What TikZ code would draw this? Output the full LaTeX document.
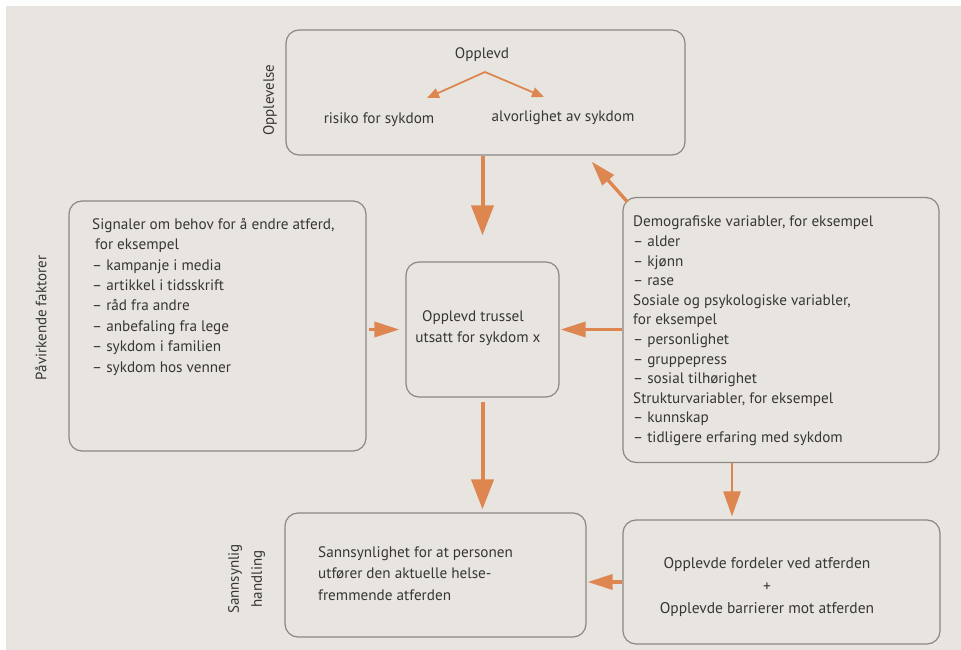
\documentclass[tikz,border=0pt]{standalone}
\usepackage{fontspec}
\setmainfont{PT Sans}
\usetikzlibrary{arrows.meta,calc}
\definecolor{bg}{HTML}{E8E5E0}
\definecolor{edge}{HTML}{8A8784}
\definecolor{ink}{HTML}{383634}
\definecolor{org}{HTML}{DD8650}
\tikzset{
  box/.style={draw=edge,line width=1.2pt,rounded corners=13pt,inner sep=0pt},
  txt/.style={text=ink,font=\fontsize{15.2}{20.4}\selectfont,inner sep=0pt,align=left},
  side/.style={text=ink,font=\fontsize{15}{23}\selectfont,inner sep=0pt,rotate=90,align=center},
  bigarr/.style={draw=org,line width=4pt,-{Triangle[width=22pt,length=30pt]}},
  midarr/.style={draw=org,line width=3.4pt,-{Triangle[width=15pt,length=25pt]}},
  thinarr/.style={draw=org,line width=2.6pt,-{Triangle[width=17pt,length=25pt]}},
  smallarr/.style={draw=org,line width=1.8pt,-{Triangle[width=10pt,length=12pt]}}
}
\begin{document}
\begin{tikzpicture}[x=1pt,y=-1pt]
\fill[bg] (0,0) rectangle (961,650);
\fill[white!96!bg] (0,0) rectangle (961,6);
\fill[white!96!bg] (0,0) rectangle (6,650);
\useasboundingbox (0,0) rectangle (961,650);

% boxes
\node[box,minimum width=399pt,minimum height=125pt] (top) at (485.5,92.5) {};
\node[box,minimum width=153pt,minimum height=135pt] (mid) at (482.5,329.5) {};
\node[box,minimum width=297pt,minimum height=250pt] (left) at (217.5,326) {};
\node[box,minimum width=316pt,minimum height=265pt] (right) at (781,330) {};
\node[box,minimum width=301pt,minimum height=124pt] (bl) at (435.5,575) {};
\node[box,minimum width=317pt,minimum height=124pt] (br) at (781.5,582) {};

% side labels
\node[side] (lopp) at (270,100) {Opplevelse};
\node[side] (lpav) at (41,318) {Påvirkende faktorer};
\node[side] (lsan) at (246.5,579) {Sannsynlig\\handling};

% top box content
\node[txt] (opplevd) at (482,55) {Opplevd};
\node[txt] (risiko) at (379,120) {risiko for sykdom};
\node[txt] (alvor) at (563,118) {alvorlighet av sykdom};
\coordinate (fork) at (485,72);
\coordinate (tipL) at (427,98);
\coordinate (tipR) at (544,97);
\draw[smallarr] (fork) -- (tipL);
\draw[smallarr] (fork) -- (tipR);

% middle text
\node[txt,align=center,font=\fontsize{15.2}{21}\selectfont] (midtxt) at (478,328.5) {\hspace*{-10pt}Opplevd trussel\\utsatt for sykdom x};

% left text
\node[txt,anchor=north west] (lefttxt) at (92,218) {Signaler om behov for å endre atferd,\\
\hspace*{3pt}for eksempel\\
– kampanje i media\\
– artikkel i tidsskrift\\
– råd fra andre\\
– anbefaling fra lege\\
– sykdom i familien\\
– sykdom hos venner};

% right text
\node[txt,anchor=north west,font=\fontsize{15.2}{19.6}\selectfont] (righttxt) at (633,216) {Demografiske variabler, for eksempel\\
– alder\\
– kjønn\\
– rase\\
Sosiale og psykologiske variabler,\\
for eksempel\\
– personlighet\\
– gruppepress\\
– sosial tilhørighet\\
Strukturvariabler, for eksempel\\
– kunnskap\\
– tidligere erfaring med sykdom};

% bottom texts
\node[txt,anchor=north west,font=\fontsize{15.2}{21.5}\selectfont] (bltxt) at (318,546) {Sannsynlighet for at personen\\utfører den aktuelle helse-\\fremmende atferden};
\node[txt,align=center,font=\fontsize{15.5}{22.5}\selectfont] (brtxt) at (767,587.5) {Opplevde fordeler ved atferden\\+\\Opplevde barrierer mot atferden};

% arrows
\coordinate (rs) at ($(right.south)+(-49,0)$);
\draw[bigarr,shorten >=26pt] (top.south -| mid.north) -- (mid.north);
\draw[bigarr,shorten <=4pt,shorten >=3pt] (mid.south) -- (mid.south |- bl.north);
\draw[midarr,shorten <=2pt,shorten >=6pt] (left.east |- mid.west) -- (mid.west);
\draw[midarr,shorten >=1pt] (right.west |- mid.east) -- (mid.east);
\draw[midarr] ($(right.north west)+(5,5)$) -- ($(top.south east)+(-94,6)$);
\draw[thinarr,shorten >=3pt] (rs) -- (rs |- br.north);
\draw[midarr,shorten >=1pt] (br.west) -- (br.west -| bl.east);
\end{tikzpicture}
\end{document}
